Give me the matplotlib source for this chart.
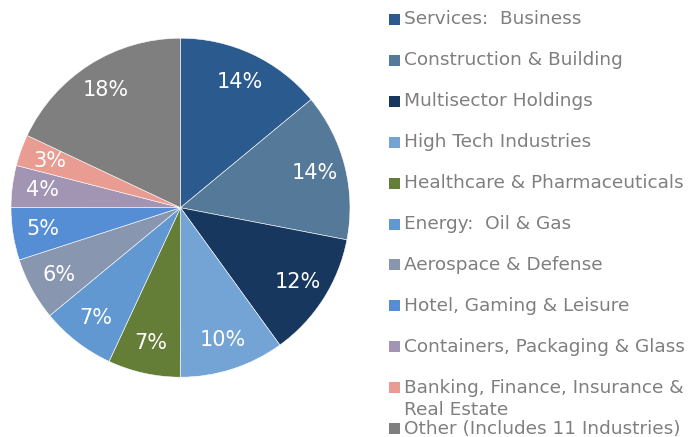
import matplotlib.pyplot as plt
from matplotlib.patches import Rectangle

industries = [
    "Services:  Business",
    "Construction & Building",
    "Multisector Holdings",
    "High Tech Industries",
    "Healthcare & Pharmaceuticals",
    "Energy:  Oil & Gas",
    "Aerospace & Defense",
    "Hotel, Gaming & Leisure",
    "Containers, Packaging & Glass",
    "Banking, Finance, Insurance &\nReal Estate",
    "Other (Includes 11 Industries)",
]
shares = [14.0, 14.05, 12.0, 10.0, 6.9, 7.1, 6.0, 5.0, 4.0, 3.0, 18.0]
colors = ["#2A5A8E", "#557A99", "#17375E", "#74A4D5", "#647D37", "#6298D2",
          "#8896AF", "#558ED5", "#A294B3", "#E99C92", "#7F7F7F"]

W, H = 690, 437
fig = plt.figure(figsize=(W / 100, H / 100), dpi=100)

# pie: centre (180.5, 207.7) px, radius 169.5 px
cx, cy, r = 180.5, 207.7, 169.5
ax = fig.add_axes([(cx - r) / W, (H - cy - r) / H, 2 * r / W, 2 * r / H])
wedges, texts, autotexts = ax.pie(
    shares, colors=colors, startangle=90, counterclock=False,
    autopct="%.0f%%", pctdistance=0.82, radius=1,
    wedgeprops=dict(edgecolor="white", linewidth=0.4),
    textprops=dict(color="white", fontsize=15))
ax.set_xlim(-1, 1)
ax.set_ylim(-1, 1)
ax.set_aspect("equal")
ax.axis("off")

# legend drawn by hand to keep the Excel-like row spacing
row0, step = 19.5, 40.9
for i, (name, col) in enumerate(zip(industries, colors)):
    yc = row0 + i * step
    fig.patches.append(Rectangle((389 / W, 1 - (yc + 5.5) / H), 11 / W, 11 / H,
                                 transform=fig.transFigure, facecolor=col,
                                 edgecolor="none"))
    for k, line in enumerate(name.split("\n")):
        fig.text(404 / W, 1 - (yc + k * 22) / H, line, fontsize=13.3,
                 color="#7F7F7F", va="center", ha="left")

fig.savefig("out.png", dpi=100)
